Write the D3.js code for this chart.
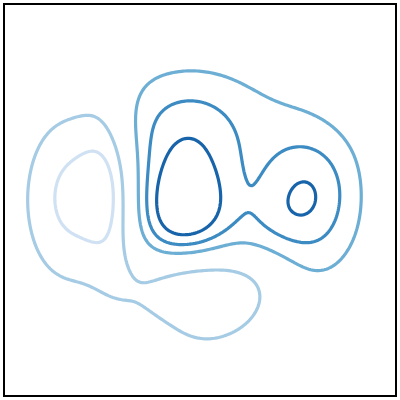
<!DOCTYPE html>
<html><head><meta charset="utf-8">
<script src="https://cdn.jsdelivr.net/npm/d3@7/dist/d3.min.js"></script>
<style>body{margin:0;background:#fff}</style>
</head><body>
<svg id="chart" width="400" height="400"></svg>
<script>
// Components of the plotted surface (data units, domain 0..100 on both axes)
const centerX = [46.6, 77.4, 47.7, 58.2, 16.9, 27.1, 52.1, 47.0];
const centerY = [46.4, 49.6, 70.0, 34.1, 51.2, 52.2, 27.6, 31.8];
const spreadX = [9.13, 9.58, 14.96, 6.37, 8.63, 4.99, 12.45, 9.07];
const spreadY = [11.78, 14.04, 10.65, 19.26, 16.36, 16.23, 9.10, 5.54];
const weight  = [4.38, 2.66, 2.02, 1.21, -2.22, -1.71, -3.36, -1.00];
const angle   = [0.05, 0.02, 0.00, -0.80, -0.03, 0.05, 0.48, 0.01];
const thresholds = [-2, -1, 1, 2, 3];
const domainX = [0, 100];
const domainY = [0, 100];

const W = 400, H = 400, mLeft = 4, mTop = 4, size = 392;
const x = d3.scaleLinear().domain(domainX).range([mLeft, mLeft + size]);
const y = d3.scaleLinear().domain(domainY).range([mTop + size, mTop]);
const color = d3.scaleSequential(d3.interpolateBlues).domain([-4 / 3, thresholds.length - 1 + 4 / 3]);

function surface(u, v) {
  let f = 0;
  for (let k = 0; k < weight.length; k++) {
    const c = Math.cos(angle[k]), s = Math.sin(angle[k]);
    const dx = u - centerX[k], dy = v - centerY[k];
    const a = dx * c + dy * s, b = -dx * s + dy * c;
    f += weight[k] * Math.exp(-0.5 * (a * a / (spreadX[k] * spreadX[k]) + b * b / (spreadY[k] * spreadY[k])));
  }
  return f;
}

const n = 200;
const gu = i => domainX[0] + (i + 0.5) / n * (domainX[1] - domainX[0]);
const gv = j => domainY[1] - (j + 0.5) / n * (domainY[1] - domainY[0]);
const values = new Array(n * n);
for (let j = 0; j < n; j++) for (let i = 0; i < n; i++) values[i + j * n] = surface(gu(i), gv(j));
const negValues = values.map(d => -d);

const pos = thresholds.filter(t => t > 0), neg = thresholds.filter(t => t < 0).map(t => -t);
const layers = [];
d3.contours().size([n, n]).thresholds(neg)(negValues).forEach(g => layers.push({level: -g.value, geo: g}));
d3.contours().size([n, n]).thresholds(pos)(values).forEach(g => layers.push({level: g.value, geo: g}));

const path = d3.geoPath(d3.geoTransform({
  point(px, py) {
    this.stream.point(x(domainX[0] + px / n * (domainX[1] - domainX[0])), y(domainY[1] - py / n * (domainY[1] - domainY[0])));
  }
}));

const svg = d3.select("#chart");
svg.append("rect").attr("width", W).attr("height", H).attr("fill", "#fff");
svg.append("g").selectAll("path").data(layers).join("path")
  .attr("d", d => path(d.geo))
  .attr("fill", "none")
  .attr("stroke", d => color(thresholds.indexOf(d.level)))
  .attr("stroke-width", 3.2)
  .attr("stroke-linejoin", "round");
svg.append("rect").attr("x", mLeft).attr("y", mTop).attr("width", size).attr("height", size)
  .attr("fill", "none").attr("stroke", "#000").attr("stroke-width", 2);
</script>
</body></html>
